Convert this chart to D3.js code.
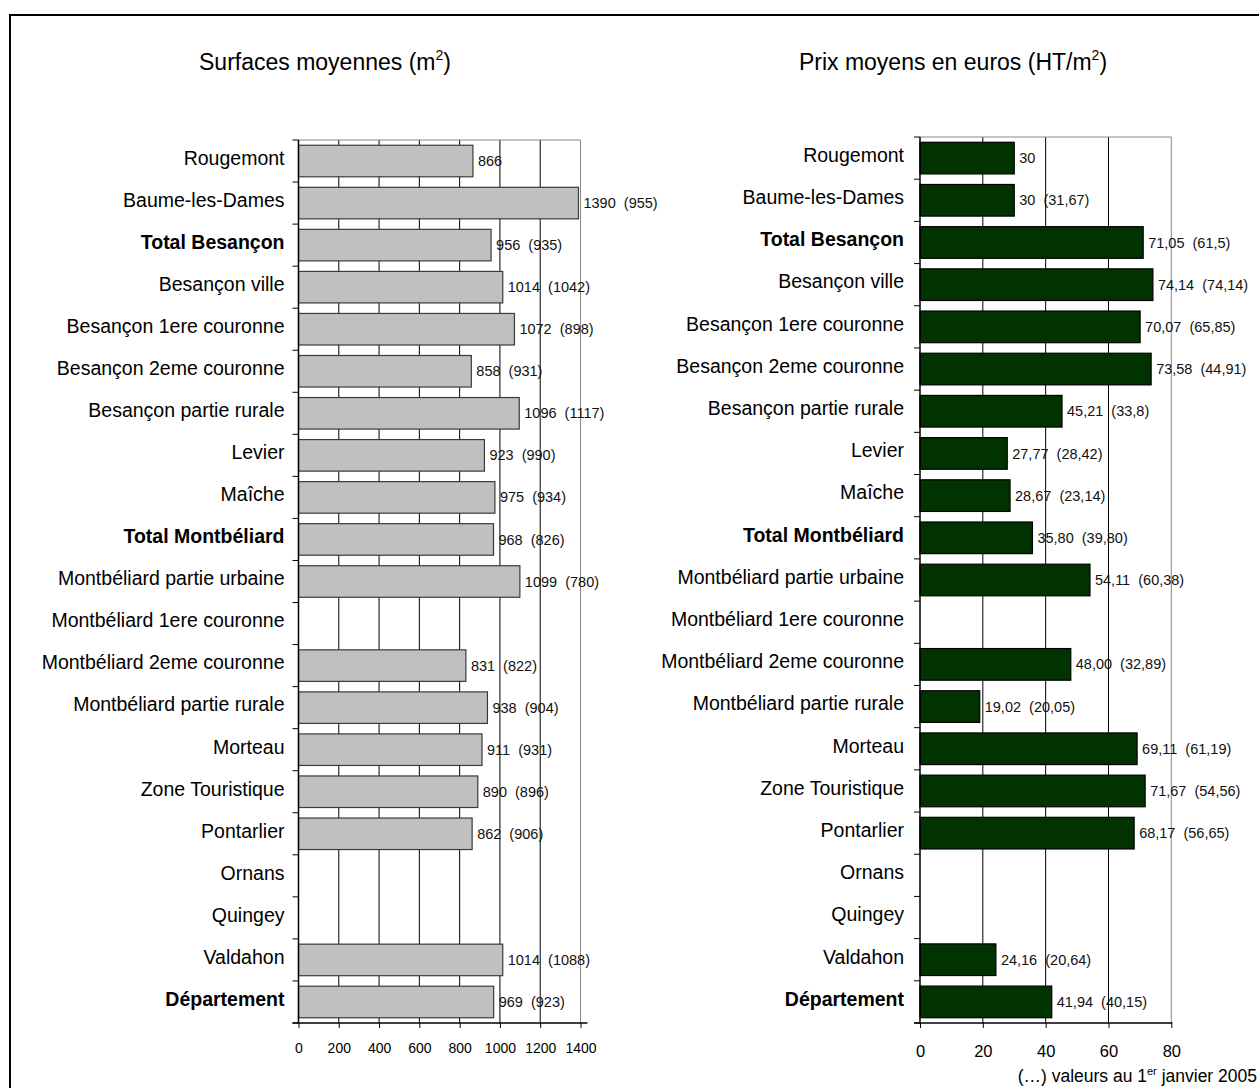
<!DOCTYPE html>
<html>
<head>
<meta charset="utf-8">
<script src="https://cdn.jsdelivr.net/npm/d3@7"></script>
<style>
  html, body { margin: 0; padding: 0; background: #fff; }
  svg { display: block; font-family: "Liberation Sans", Arial, sans-serif; }
  text.val { white-space: pre; }
</style>
</head>
<body>
<svg id="chart" width="1259" height="1088"></svg>
<script>
// Secteurs (ordre d'affichage, de haut en bas)
const categories = [
  "Rougemont", "Baume-les-Dames", "Total Besançon", "Besançon ville",
  "Besançon 1ere couronne", "Besançon 2eme couronne", "Besançon partie rurale",
  "Levier", "Maîche", "Total Montbéliard", "Montbéliard partie urbaine",
  "Montbéliard 1ere couronne", "Montbéliard 2eme couronne", "Montbéliard partie rurale",
  "Morteau", "Zone Touristique", "Pontarlier", "Ornans", "Quingey", "Valdahon", "Département"
];
const boldCategories = ["Total Besançon", "Total Montbéliard", "Département"];

// Surfaces moyennes (m²) et valeurs au 1er janvier 2005
const surfaces = [866, 1390, 956, 1014, 1072, 858, 1096, 923, 975, 968, 1099, null, 831, 938, 911, 890, 862, null, null, 1014, 969];
const surfaces2005 = [null, 955, 935, 1042, 898, 931, 1117, 990, 934, 826, 780, null, 822, 904, 931, 896, 906, null, null, 1088, 923];

// Prix moyens (euros HT/m²) et valeurs au 1er janvier 2005
const prix = [30, 30, 71.05, 74.14, 70.07, 73.58, 45.21, 27.77, 28.67, 35.80, 54.11, null, 48.00, 19.02, 69.11, 71.67, 68.17, null, null, 24.16, 41.94];
const prixLabels = ["30", "30", "71,05", "74,14", "70,07", "73,58", "45,21", "27,77", "28,67", "35,80", "54,11", "", "48,00", "19,02", "69,11", "71,67", "68,17", "", "", "24,16", "41,94"];
const prix2005Labels = ["", "31,67", "61,5", "74,14", "65,85", "44,91", "33,8", "28,42", "23,14", "39,80", "60,38", "", "32,89", "20,05", "61,19", "54,56", "56,65", "", "", "20,64", "40,15"];

const surfaceTicks = [0, 200, 400, 600, 800, 1000, 1200, 1400];
const prixTicks = [0, 20, 40, 60, 80];

const svg = d3.select("#chart");

// Cadre
svg.append("rect")
  .attr("x", 10).attr("y", 15).attr("width", 1270).attr("height", 1100)
  .attr("fill", "none").attr("stroke", "#000").attr("stroke-width", 2);

function drawPanel(opt) {
  const g = svg.append("g");
  const x = d3.scaleLinear().domain(opt.domain).range([opt.left, opt.right]);
  const y = d3.scaleBand().domain(categories).range([opt.top, opt.bottom])
    .paddingInner(0.25).paddingOuter(0.125);
  const step = y.step();
  const bandTop = opt.top;

  // Quadrillage vertical
  g.selectAll("line.grid").data(opt.ticks.slice(1)).join("line")
    .attr("class", "grid")
    .attr("x1", d => x(d)).attr("x2", d => x(d))
    .attr("y1", opt.top).attr("y2", opt.bottom)
    .attr("stroke", (d, i, a) => i === a.length - 1 ? "#888" : "#000")
    .attr("stroke-width", 1);
  // Bord supérieur de la zone de tracé
  g.append("line")
    .attr("x1", x(opt.domain[0])).attr("x2", x(opt.domain[1]))
    .attr("y1", opt.top).attr("y2", opt.top)
    .attr("stroke", "#888");

  // Barres
  g.selectAll("rect.bar").data(categories.map((c, i) => ({c, v: opt.values[i], i})).filter(d => d.v != null))
    .join("rect")
    .attr("class", "bar")
    .attr("x", x(0))
    .attr("y", d => y(d.c))
    .attr("width", d => x(d.v) - x(0))
    .attr("height", y.bandwidth())
    .attr("fill", opt.fill)
    .attr("stroke", opt.stroke)
    .attr("stroke-width", 1.2);

  // Étiquettes de valeurs
  g.selectAll("text.val").data(categories.map((c, i) => ({c, v: opt.values[i], lab: opt.labels[i]})).filter(d => d.v != null))
    .join("text")
    .attr("class", "val")
    .attr("x", d => x(d.v) + 5)
    .attr("y", d => y(d.c) + y.bandwidth() / 2)
    .attr("dy", "0.35em")
    .attr("font-size", opt.valueSize)
    .attr("fill", "#111")
    .text(d => d.lab);

  // Axe des catégories
  g.append("line")
    .attr("x1", x(0)).attr("x2", x(0))
    .attr("y1", opt.top).attr("y2", opt.bottom)
    .attr("stroke", "#000").attr("stroke-width", 1.5);
  g.selectAll("line.ytick").data(d3.range(categories.length + 1)).join("line")
    .attr("class", "ytick")
    .attr("x1", x(0) - 6).attr("x2", x(0))
    .attr("y1", i => bandTop + i * step).attr("y2", i => bandTop + i * step)
    .attr("stroke", "#000");
  g.selectAll("text.cat").data(categories).join("text")
    .attr("class", "cat")
    .attr("x", x(0) - opt.labelGap)
    .attr("y", d => y(d) + y.bandwidth() / 2 - 3)
    .attr("dy", "0.35em")
    .attr("text-anchor", "end")
    .attr("font-size", 19.5)
    .attr("font-weight", d => boldCategories.includes(d) ? "bold" : "normal")
    .attr("fill", "#000")
    .text(d => d);

  // Axe des valeurs
  const axis = d3.axisBottom(x).tickValues(opt.ticks).tickSize(5).tickSizeOuter(0)
    .tickFormat(d3.format("d"));
  const ax = g.append("g").attr("transform", `translate(0,${opt.bottom})`).call(axis);
  ax.select(".domain").remove();
  ax.selectAll(".tick line").attr("stroke", "#000");
  ax.selectAll(".tick text")
    .attr("font-size", opt.tickSize)
    .attr("font-family", "Liberation Sans, Arial, sans-serif")
    .attr("fill", "#000")
    .attr("y", opt.tickY)
    .attr("dy", "0.35em");
  g.append("line")
    .attr("x1", x(0) - 6).attr("x2", x(opt.domain[1]) + opt.axisOver)
    .attr("y1", opt.bottom).attr("y2", opt.bottom)
    .attr("stroke", "#000").attr("stroke-width", 1.5);

  // Titre
  const t = g.append("text")
    .attr("x", opt.titleX).attr("y", 70)
    .attr("text-anchor", "middle")
    .attr("font-size", 23)
    .attr("fill", "#000");
  t.append("tspan").text(opt.title);
  t.append("tspan").attr("font-size", 14).attr("dy", -10).text("2");
  t.append("tspan").attr("dy", 10).text(")");
}

drawPanel({
  domain: [0, 1400], left: 298.5, right: 580.5, top: 140, bottom: 1023,
  ticks: surfaceTicks, values: surfaces,
  labels: surfaces.map((v, i) => v == null ? "" : (surfaces2005[i] == null ? `${v}` : `${v}  (${surfaces2005[i]})`)),
  fill: "#c0c0c0", stroke: "#3a3a3a", valueSize: 14.5, labelGap: 14,
  tickSize: 14, tickY: 25, axisOver: 7,
  title: "Surfaces moyennes (m", titleX: 325
});

drawPanel({
  domain: [0, 80], left: 920, right: 1171.3, top: 137, bottom: 1023,
  ticks: prixTicks, values: prix,
  labels: prixLabels.map((v, i) => prix2005Labels[i] ? `${v}  (${prix2005Labels[i]})` : v),
  fill: "#003300", stroke: "#000", valueSize: 14.5, labelGap: 16,
  tickSize: 16.5, tickY: 28, axisOver: 1,
  title: "Prix moyens en euros (HT/m", titleX: 953
});

// Note de bas de page
const note = svg.append("text")
  .attr("x", 1257).attr("y", 1082)
  .attr("text-anchor", "end")
  .attr("font-size", 17.5)
  .attr("fill", "#000");
note.append("tspan").text("(…) valeurs au 1");
note.append("tspan").attr("font-size", 11).attr("dy", -7).text("er");
note.append("tspan").attr("dy", 7).text(" janvier 2005");
</script>
</body>
</html>
